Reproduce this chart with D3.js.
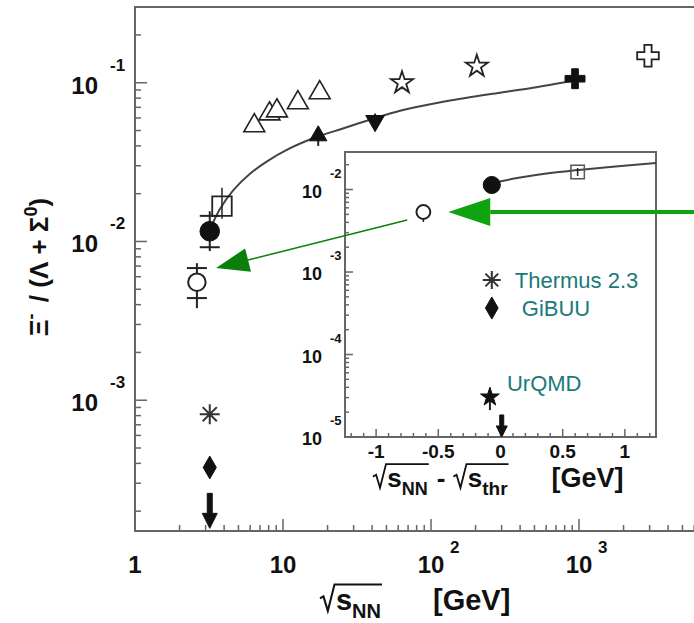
<!DOCTYPE html>
<meta charset="utf-8">
<style>
    body { margin: 0; background: #fff; }
    svg { font-family: "Liberation Sans", Arial, sans-serif; }
    .frame { fill: none; stroke: #666; stroke-width: 2px; }
    .tick { stroke: #666; stroke-width: 1.5px; }
    .lbl { font-weight: bold; fill: #111; }
    .model { fill: #1a7a7a; font-size: 22px; }
</style>
<body>
<script src="https://cdn.jsdelivr.net/npm/d3@7"></script>
<script>

// ---------- main panel data (sqrt(s_NN) in GeV, ratio) ----------
// open triangles
var triOpenX = [6.4, 8.1, 9.1, 12.6, 17.7];
var triOpenY = [0.0536, 0.0637, 0.0665, 0.0748, 0.0865];
var triOpenLo = [0.0505, 0.060, 0.063, 0.071, 0.082];
var triOpenHi = [0.0555, 0.066, 0.069, 0.0775, 0.089];
// filled triangle
var triFullX = [17.3];
var triFullY = [0.0463];
var triFullLo = [0.040];
var triFullHi = [0.053];
// filled inverted triangle
var triDownX = [41.9];
var triDownY = [0.0575];
var triDownLo = [0.051];
var triDownHi = [0.064];
// open stars
var starOpenX = [63.7, 204];
var starOpenY = [0.100, 0.127];
var starOpenLo = [0.091, 0.118];
var starOpenHi = [0.104, 0.131];
// filled cross
var crossFullX = [940];
var crossFullY = [0.106];
var crossFullLo = [0.095];
var crossFullHi = [0.118];
// open cross
var crossOpenX = [2925];
var crossOpenY = [0.148];
// open square
var sqX = [3.87];
var sqY = [0.0167];
var sqLo = [0.0139];
var sqHi = [0.0218];
// filled circle
var dotX = [3.2];
var dotY = [0.0116];
var dotLo = [0.0087];
var dotHi = [0.0155];
var dotSysLo = [0.0092];
var dotSysHi = [0.0145];
// open circle
var ringX = [2.62];
var ringY = [0.00554];
var ringLo = [0.0038];
var ringHi = [0.0073];
var ringSysLo = [0.0044];
var ringSysHi = [0.0068];
// model values at 3.2 GeV
var thermusX = [3.2];
var thermusY = [8.16e-4];
var gibuuX = [3.2];
var gibuuY = [3.77e-4];
var limitX = [3.2];
var limitY = [2.59e-4];
// statistical model curve
var curveX = [3.26, 3.75, 4.59, 5.98, 7.80, 10.6, 16.5, 25.4, 40.6, 61.8, 103, 175, 293, 489, 911];
var curveY = [0.0123, 0.0160, 0.0209, 0.0267, 0.0320, 0.0378, 0.0452, 0.0515, 0.0593, 0.0666, 0.0738, 0.0804, 0.0865, 0.0930, 0.103];

// ---------- inset data (sqrt(s_NN) - sqrt(s_thr) in GeV) ----------
var inCurveX = [-0.06, 0.133, 0.40, 0.62, 0.88, 1.25];
var inCurveY = [0.0120, 0.01377, 0.01585, 0.0172, 0.01875, 0.0209];
var inDotX = [-0.07];
var inDotY = [0.01135];
var inSqX = [0.62];
var inSqY = [0.0163];
var inSqLo = [0.0146];
var inSqHi = [0.0182];
var inRingX = [-0.62];
var inRingY = [0.00534];
var inRingLo = [0.00404];
var inRingHi = [0.00649];
var inThermusX = [-0.07];
var inThermusY = [8.0e-4];
var inGibuuX = [-0.07];
var inGibuuY = [3.66e-4];
var inUrqmdX = [-0.085];
var inUrqmdY = [3.05e-5];
var inUrqmdLo = [2.12e-5];
var inUrqmdHi = [3.6e-5];
var inLimitX = [0.01];
var inLimitY = [1.85e-5];
var modelNames = ["Thermus 2.3", "GiBUU", "UrQMD"];

// ---------- tick labels ----------
var mainXTicks = [1, 10, 100, 1000];
var mainXBase = ["1", "10", "10", "10"];
var mainXExp = ["", "", "2", "3"];
var mainYTicks = [0.1, 0.01, 0.001];
var mainYExp = ["-1", "-2", "-3"];
var inYTicks = [1e-2, 1e-3, 1e-4, 1e-5];
var inYExp = ["-2", "-3", "-4", "-5"];
var inXTicks = [-1, -0.5, 0, 0.5, 1];
var inXLabels = ["-1", "-0.5", "0", "0.5", "1"];

// green annotation arrows: [x, y]
var arrowAStart = [-0.75, 0.00427];   // inset coords
var arrowATip = [3.53, 0.0068];       // main coords
var arrowBStart = [1.6, 0.00534];     // inset coords
var arrowBTip = [-0.42, 0.00534];     // inset coords

var svg = d3.select("body").append("svg")
    .attr("width", 694)
    .attr("height", 623);

// scales
var x = d3.scaleLog().domain([1, 10000]).range([135, 727]);
var y = d3.scaleLog().domain([1.5e-4, 0.3]).range([531, 7]);
var xi = d3.scaleLinear().domain([-1.25, 1.25]).range([345, 656]);
var yi = d3.scaleLog().domain([1e-5, 0.0285]).range([437, 152]);

function isDecade(t) {
    var l = Math.log10(t);
    return Math.abs(l - Math.round(l)) < 1e-6;
}

function asterisk(r) {
    var p = d3.path();
    for (var k = 0; k < 4; k++) {
        var a = k * Math.PI / 4;
        p.moveTo(-r * Math.cos(a), -r * Math.sin(a));
        p.lineTo(r * Math.cos(a), r * Math.sin(a));
    }
    return p.toString();
}

function limitPath(len, w, head, sw) {
    return "M" + (-sw / 2) + ",0L" + (sw / 2) + ",0L" + (sw / 2) + "," + (len - head) +
        "L" + (w / 2) + "," + (len - head) + "L0," + len + "L" + (-w / 2) + "," + (len - head) +
        "L" + (-sw / 2) + "," + (len - head) + "Z";
}

function markers(g, xs, ys, sx, sy, d, fill, stroke, sw, rot) {
    g.selectAll(null).data(xs).enter().append("path")
        .attr("d", d)
        .attr("transform", function (v, i) {
            return "translate(" + sx(v) + "," + sy(ys[i]) + ")" + (rot ? " rotate(" + rot + ")" : "");
        })
        .attr("fill", fill)
        .attr("stroke", stroke)
        .attr("stroke-width", sw);
}

function bars(g, xs, lo, hi, sx, sy, sw) {
    g.selectAll(null).data(xs).enter().append("line")
        .attr("x1", function (v) { return sx(v); })
        .attr("x2", function (v) { return sx(v); })
        .attr("y1", function (v, i) { return sy(lo[i]); })
        .attr("y2", function (v, i) { return sy(hi[i]); })
        .attr("stroke", "#222")
        .attr("stroke-width", sw);
}

function caps(g, xs, vals, sx, sy, w) {
    g.selectAll(null).data(xs).enter().append("line")
        .attr("x1", function (v) { return sx(v) - w / 2; })
        .attr("x2", function (v) { return sx(v) + w / 2; })
        .attr("y1", function (v, i) { return sy(vals[i]); })
        .attr("y2", function (v, i) { return sy(vals[i]); })
        .attr("stroke", "#222")
        .attr("stroke-width", 2);
}

// rich text: parts laid out one after another, radicals get an overline
function rich(parent, px, py, parts, anchor, rotate) {
    var g = parent.append("g");
    var inner = g.append("g");
    var cx = 0, rads = [];
    parts.forEach(function (p) {
        cx += p.gap || 0;
        if (p.rad) {
            rads.push({ start: cx, size: p.size, end: cx + p.size * 0.55 });
            cx += p.size * 0.55;
            return;
        }
        var t = inner.append("text")
            .attr("class", "lbl")
            .attr("x", cx)
            .attr("y", p.b || 0)
            .style("font-size", p.size + "px")
            .style("white-space", "pre")
            .text(p.t);
        cx += t.node().getComputedTextLength();
        if (p.over && rads.length) rads[rads.length - 1].end = cx;
    });
    rads.forEach(function (r) {
        var s = r.size, a = r.start;
        inner.append("path")
            .attr("d", "M" + a + "," + (-0.40 * s) +
                "L" + (a + 0.12 * s) + "," + (-0.47 * s) +
                "L" + (a + 0.27 * s) + "," + (0.03 * s) +
                "L" + (a + 0.50 * s) + "," + (-0.88 * s) +
                "L" + (r.end + 1) + "," + (-0.88 * s))
            .attr("fill", "none")
            .attr("stroke", "#111")
            .attr("stroke-width", s * 0.07);
    });
    var shift = anchor === "middle" ? -cx / 2 : (anchor === "end" ? -cx : 0);
    inner.attr("transform", "translate(" + shift + ",0)");
    g.attr("transform", "translate(" + px + "," + py + ")" + (rotate ? " rotate(" + rotate + ")" : ""));
    return g;
}

// ================= main panel =================
var main = svg.append("g");

main.append("rect")
    .attr("class", "frame")
    .attr("x", x(1))
    .attr("y", y(0.3))
    .attr("width", x(10000) - x(1))
    .attr("height", y(1.5e-4) - y(0.3));

// x ticks
main.selectAll(".xt").data(x.ticks()).enter().append("line")
    .attr("class", "tick")
    .attr("x1", function (d) { return x(d); })
    .attr("x2", function (d) { return x(d); })
    .attr("y1", y(1.5e-4))
    .attr("y2", function (d) { return y(1.5e-4) - (isDecade(d) ? 12 : 6); });

// y ticks
main.selectAll(".yt").data(y.ticks().filter(function (d) {
        return y(d) > 10 && y(d) < 528;
    })).enter().append("line")
    .attr("class", "tick")
    .attr("x1", x(1))
    .attr("x2", function (d) { return x(1) + (isDecade(d) ? 12 : 6); })
    .attr("y1", function (d) { return y(d); })
    .attr("y2", function (d) { return y(d); });

// tick labels
mainXTicks.forEach(function (t, i) {
    main.append("text").attr("class", "lbl")
        .attr("x", x(t)).attr("y", 573)
        .attr("text-anchor", "middle")
        .style("font-size", "24px")
        .text(mainXBase[i]);
    if (mainXExp[i]) {
        main.append("text").attr("class", "lbl")
            .attr("x", x(t) + 19).attr("y", 553)
            .style("font-size", "17px")
            .text(mainXExp[i]);
    }
});
mainYTicks.forEach(function (t, i) {
    main.append("text").attr("class", "lbl")
        .attr("x", 98).attr("y", y(t) + 11)
        .attr("text-anchor", "end")
        .style("font-size", "24px")
        .text("10");
    main.append("text").attr("class", "lbl")
        .attr("x", 110).attr("y", y(t) - 12)
        .style("font-size", "17px")
        .text(mainYExp[i]);
});

// axis titles
rich(svg, 320, 610, [
    { rad: true, size: 29 },
    { t: "s", size: 29, over: true },
    { t: "NN", size: 20, b: 8, over: true },
    { t: "[GeV]", size: 29, gap: 52 }
], "start");

rich(svg, 48, 267, [
    { t: "\u039E", size: 26 },
    { t: "-", size: 18, b: -11 },
    { t: " / (\u039B + \u03A3", size: 26, gap: 4 },
    { t: "0", size: 18, b: -11 },
    { t: ")", size: 26 }
], "middle", -90);

// model curve
var line = d3.line()
    .x(function (d) { return x(d[0]); })
    .y(function (d) { return y(d[1]); })
    .curve(d3.curveCatmullRom.alpha(0.5));
main.append("path")
    .datum(curveX.map(function (v, i) { return [v, curveY[i]]; }))
    .attr("d", line)
    .attr("fill", "none")
    .attr("stroke", "#444")
    .attr("stroke-width", 2);

// data points
bars(main, triOpenX, triOpenLo, triOpenHi, x, y, 1.5);
markers(main, triOpenX, triOpenY, x, y, d3.symbol().type(d3.symbolTriangle).size(190)(), "#fff", "#222", 1.6);

bars(main, triFullX, triFullLo, triFullHi, x, y, 2);
markers(main, triFullX, triFullY, x, y, d3.symbol().type(d3.symbolTriangle).size(130)(), "#111", "#111", 1);

bars(main, triDownX, triDownLo, triDownHi, x, y, 2);
markers(main, triDownX, triDownY, x, y, d3.symbol().type(d3.symbolTriangle).size(150)(), "#111", "#111", 1, 180);

bars(main, starOpenX, starOpenLo, starOpenHi, x, y, 1.5);
markers(main, starOpenX, starOpenY, x, y, d3.symbol().type(d3.symbolStar).size(150)(), "#fff", "#222", 1.8);

bars(main, crossFullX, crossFullLo, crossFullHi, x, y, 2);
markers(main, crossFullX, crossFullY, x, y, d3.symbol().type(d3.symbolCross).size(220)(), "#111", "#111", 1);
markers(main, crossOpenX, crossOpenY, x, y, d3.symbol().type(d3.symbolCross).size(260)(), "#fff", "#222", 1.8);

bars(main, sqX, sqLo, sqHi, x, y, 1.5);
markers(main, sqX, sqY, x, y, d3.symbol().type(d3.symbolSquare).size(380)(), "none", "#222", 1.8);

bars(main, dotX, dotLo, dotHi, x, y, 2);
caps(main, dotX, dotSysLo, x, y, 20);
caps(main, dotX, dotSysHi, x, y, 20);
markers(main, dotX, dotY, x, y, d3.symbol().type(d3.symbolCircle).size(300)(), "#111", "#111", 1);

bars(main, ringX, ringLo, ringHi, x, y, 2);
caps(main, ringX, ringSysLo, x, y, 20);
caps(main, ringX, ringSysHi, x, y, 20);
markers(main, ringX, ringY, x, y, d3.symbol().type(d3.symbolCircle).size(240)(), "#fff", "#222", 2);

markers(main, thermusX, thermusY, x, y, asterisk(10), "none", "#333", 2);
markers(main, gibuuX, gibuuY, x, y, d3.symbol().type(d3.symbolDiamond).size(150)(), "#111", "#111", 1);
markers(main, limitX, limitY, x, y, limitPath(35, 15, 15, 5), "#111", "#111", 1);

// ================= inset =================
var inset = svg.append("g");

inset.append("rect")
    .attr("x", xi(-1.25))
    .attr("y", yi(0.0285))
    .attr("width", xi(1.25) - xi(-1.25))
    .attr("height", yi(1e-5) - yi(0.0285))
    .attr("fill", "#fff")
    .attr("stroke", "#666")
    .attr("stroke-width", 2);

inset.selectAll(".ixt").data(xi.ticks(25)).enter().append("line")
    .attr("class", "tick")
    .attr("x1", function (d) { return xi(d); })
    .attr("x2", function (d) { return xi(d); })
    .attr("y1", yi(1e-5))
    .attr("y2", function (d) {
        return yi(1e-5) - (Math.abs(d * 2 - Math.round(d * 2)) < 1e-6 ? 8 : 4);
    });

inset.selectAll(".iyt").data(yi.ticks().filter(function (d) {
        return yi(d) > 154 && yi(d) < 436;
    })).enter().append("line")
    .attr("class", "tick")
    .attr("x1", xi(-1.25))
    .attr("x2", function (d) { return xi(-1.25) + (isDecade(d) ? 8 : 4); })
    .attr("y1", function (d) { return yi(d); })
    .attr("y2", function (d) { return yi(d); });

inXTicks.forEach(function (t, i) {
    inset.append("text").attr("class", "lbl")
        .attr("x", xi(t)).attr("y", 458)
        .attr("text-anchor", "middle")
        .style("font-size", "19px")
        .text(inXLabels[i]);
});
inYTicks.forEach(function (t, i) {
    inset.append("text").attr("class", "lbl")
        .attr("x", 322).attr("y", yi(t) + 8)
        .attr("text-anchor", "end")
        .style("font-size", "18px")
        .text("10");
    inset.append("text").attr("class", "lbl")
        .attr("x", 330).attr("y", yi(t) - 12)
        .style("font-size", "13px")
        .text(inYExp[i]);
});

rich(svg, 373, 487, [
    { rad: true, size: 26 },
    { t: "s", size: 26, over: true },
    { t: "NN", size: 18, b: 8, over: true },
    { t: "-", size: 26, gap: 9 },
    { rad: true, size: 26, gap: 8 },
    { t: "s", size: 26, over: true },
    { t: "thr", size: 19, b: 8, over: true },
    { t: "[GeV]", size: 27, gap: 44 }
], "start");

var iline = d3.line()
    .x(function (d) { return xi(d[0]); })
    .y(function (d) { return yi(d[1]); })
    .curve(d3.curveCatmullRom.alpha(0.5));
inset.append("path")
    .datum(inCurveX.map(function (v, i) { return [v, inCurveY[i]]; }))
    .attr("d", iline)
    .attr("fill", "none")
    .attr("stroke", "#444")
    .attr("stroke-width", 2);

markers(inset, inDotX, inDotY, xi, yi, d3.symbol().type(d3.symbolCircle).size(230)(), "#111", "#111", 1);
bars(inset, inSqX, inSqLo, inSqHi, xi, yi, 1.5);
markers(inset, inSqX, inSqY, xi, yi, d3.symbol().type(d3.symbolSquare).size(180)(), "none", "#555", 1.5);
bars(inset, inRingX, inRingLo, inRingHi, xi, yi, 1.5);
markers(inset, inRingX, inRingY, xi, yi, d3.symbol().type(d3.symbolCircle).size(150)(), "#fff", "#222", 2);
markers(inset, inThermusX, inThermusY, xi, yi, asterisk(9), "none", "#333", 2);
markers(inset, inGibuuX, inGibuuY, xi, yi, d3.symbol().type(d3.symbolDiamond).size(140)(), "#111", "#111", 1);
bars(inset, inUrqmdX, inUrqmdLo, inUrqmdHi, xi, yi, 2);
markers(inset, inUrqmdX, inUrqmdY, xi, yi, d3.symbol().type(d3.symbolStar).size(110)(), "#111", "#111", 1);
markers(inset, inLimitX, inLimitY, xi, yi, limitPath(22, 11, 11, 4), "#111", "#111", 1);

// model names
inset.append("text").attr("class", "model")
    .attr("x", xi(inThermusX[0]) + 23).attr("y", yi(inThermusY[0]) + 8)
    .text(modelNames[0]);
inset.append("text").attr("class", "model")
    .attr("x", xi(inGibuuX[0]) + 30).attr("y", yi(inGibuuY[0]) + 8)
    .text(modelNames[1]);
inset.append("text").attr("class", "model")
    .attr("x", xi(inUrqmdX[0]) + 17).attr("y", yi(inUrqmdY[0]) - 6)
    .text(modelNames[2]);

// ================= green arrows =================
function arrow(g, s, p, len, w, sw, color) {
    var dx = s[0] - p[0], dy = s[1] - p[1];
    var n = Math.sqrt(dx * dx + dy * dy);
    var ux = dx / n, uy = dy / n;
    var bx = p[0] + ux * len, by = p[1] + uy * len;
    g.append("line")
        .attr("x1", s[0]).attr("y1", s[1])
        .attr("x2", bx).attr("y2", by)
        .attr("stroke", color)
        .attr("stroke-width", sw);
    g.append("path")
        .attr("d", "M" + p[0] + "," + p[1] +
            "L" + (bx - uy * w / 2) + "," + (by + ux * w / 2) +
            "L" + (bx + uy * w / 2) + "," + (by - ux * w / 2) + "Z")
        .attr("fill", color);
}

var ann = svg.append("g");
arrow(ann,
    [xi(arrowAStart[0]), yi(arrowAStart[1])],
    [x(arrowATip[0]), y(arrowATip[1])],
    33, 24, 1.5, "#0a800a");
arrow(ann,
    [xi(arrowBStart[0]), yi(arrowBStart[1])],
    [xi(arrowBTip[0]), yi(arrowBTip[1])],
    42, 28, 4, "#0fa30f");

</script>
</body>
